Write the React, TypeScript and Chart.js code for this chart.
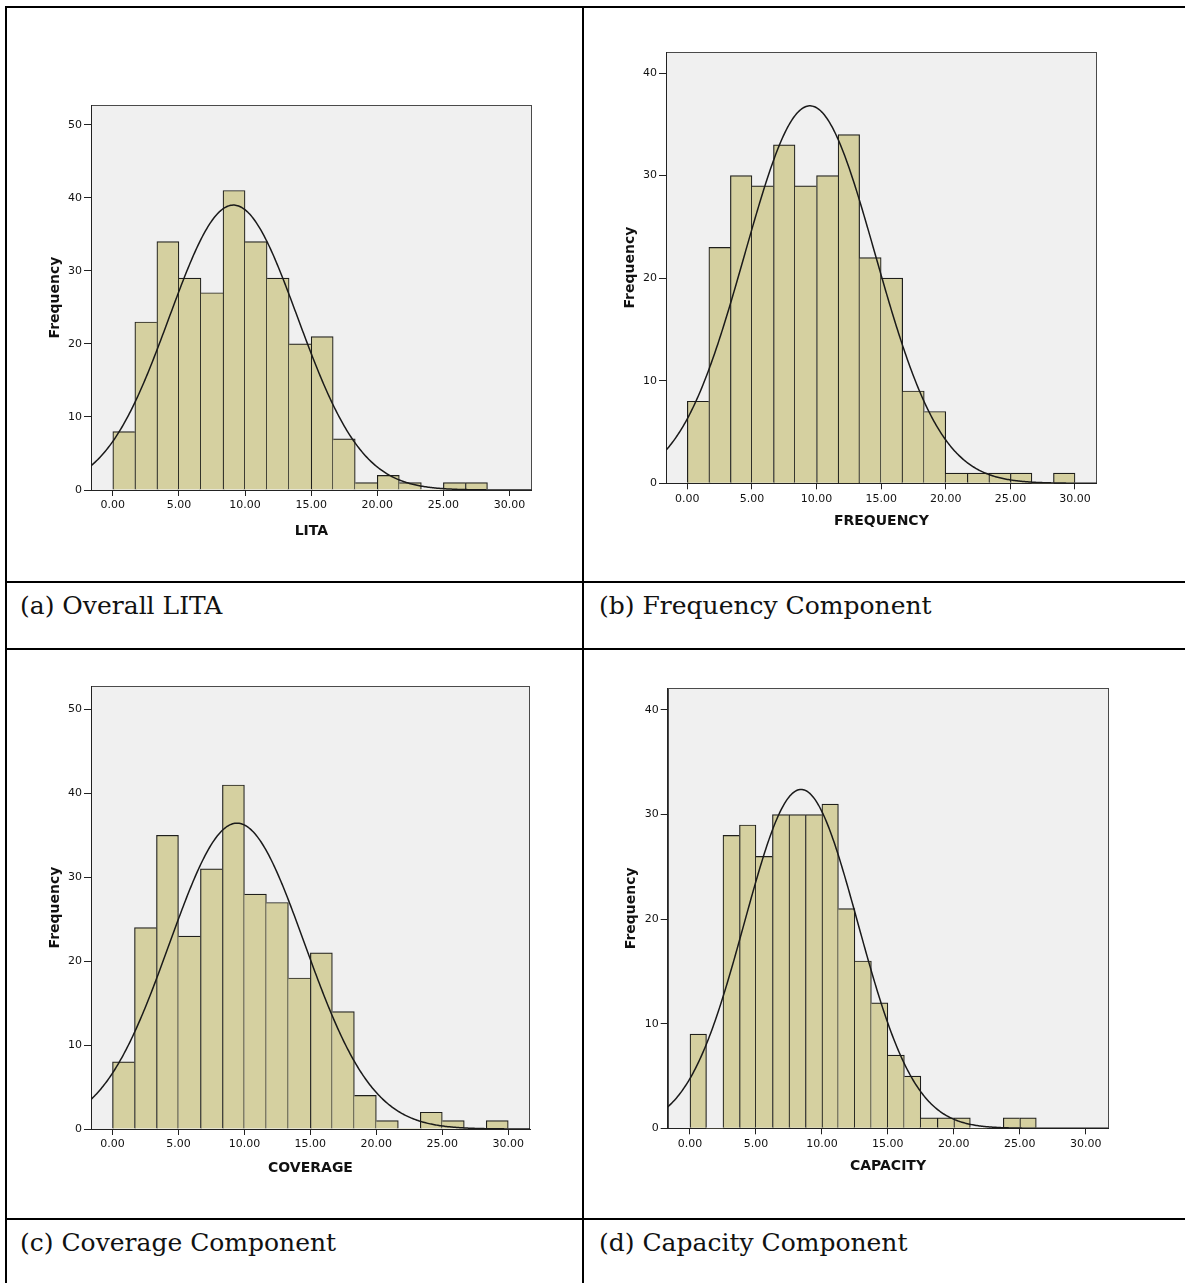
import React, { useEffect, useRef } from "react";
import { Chart, registerables } from "chart.js";

Chart.register(...registerables);

// ---------- DATA ----------
const litaCounts = [8, 23, 34, 29, 27, 41, 34, 29, 20, 21, 7, 1, 2, 1, 0, 1, 1];
const frequencyCounts = [8, 23, 30, 29, 33, 29, 30, 34, 22, 20, 9, 7, 1, 1, 1, 1, 0, 1];
const coverageCounts = [8, 24, 35, 23, 31, 41, 28, 27, 18, 21, 14, 4, 1, 0, 2, 1, 0, 1];
const capacityCounts = [9, 0, 28, 29, 26, 30, 30, 30, 31, 21, 16, 12, 7, 5, 1, 1, 1, 0, 0, 1, 1];

// bin widths (x units)
const binWidths = [30 / 18, 30 / 18, 30 / 18, 1.25];

// fitted normal curve: [mean, sd, peak]
const litaCurve = [9.12, 4.85, 39.0];
const frequencyCurve = [9.49, 5.05, 36.8];
const coverageCurve = [9.44, 5.12, 36.45];
const capacityCurve = [8.42, 4.3, 32.4];

const xTickValues = [0, 5, 10, 15, 20, 25, 30];
const xTickLabels = ["0.00", "5.00", "10.00", "15.00", "20.00", "25.00", "30.00"];
const yTicks50 = [0, 10, 20, 30, 40, 50];
const yTicks40 = [0, 10, 20, 30, 40];

const xAxisTitles = ["LITA", "FREQUENCY", "COVERAGE", "CAPACITY"];
const yAxisTitle = "Frequency";
const captions = [
  "(a) Overall LITA",
  "(b) Frequency Component",
  "(c) Coverage Component",
  "(d) Capacity Component",
];

// ---------- LAYOUT ----------
type PanelLayout = {
  left: number; top: number; width: number; height: number;
  padTop: number; padRight: number; yAxisW: number; xAxisH: number;
  yTitlePad: number; xTitlePad: number;
  xMin: number; xMax: number; yMax: number;
};

const layouts: PanelLayout[] = [
  { left: 35, top: 95, width: 507, height: 451, padTop: 10, padRight: 10.3, yAxisW: 56, xAxisH: 56, yTitlePad: 11.6, xTitlePad: 6.6, xMin: -1.65, xMax: 31.68, yMax: 52.7 },
  { left: 610, top: 42, width: 497, height: 494, padTop: 10, padRight: 10.3, yAxisW: 56, xAxisH: 52.7, yTitlePad: 11.6, xTitlePad: 6.6, xMin: -1.65, xMax: 31.68, yMax: 42.05 },
  { left: 35, top: 676, width: 505, height: 507, padTop: 10, padRight: 10, yAxisW: 56, xAxisH: 54, yTitlePad: 11.6, xTitlePad: 6.6, xMin: -1.63, xMax: 31.65, yMax: 52.8 },
  { left: 612, top: 678, width: 506, height: 504, padTop: 10.3, padRight: 9.7, yAxisW: 55.7, xAxisH: 53.7, yTitlePad: 11.3, xTitlePad: 6.9, xMin: -1.69, xMax: 31.71, yMax: 42.07 },
];

const countsList = [litaCounts, frequencyCounts, coverageCounts, capacityCounts];
const curveList = [litaCurve, frequencyCurve, coverageCurve, capacityCurve];
const yTickList = [yTicks50, yTicks40, yTicks50, yTicks40];

const SANS = "'DejaVu Sans', 'Noto Sans', sans-serif";
const SERIF = "'DejaVu Serif', 'Liberation Serif', serif";

const framePlugin = {
  id: "frame",
  beforeDraw(chart: any) {
    const { ctx, chartArea } = chart;
    if (!chartArea) return;
    const { left, top, right, bottom } = chartArea;
    ctx.save();
    ctx.fillStyle = "#f0f0f0";
    ctx.fillRect(left, top, right - left, bottom - top);
    ctx.strokeStyle = "#4a4a4a";
    ctx.lineWidth = 1;
    ctx.strokeRect(Math.round(left) + 0.5, Math.round(top) + 0.5, Math.round(right - left) - 1, Math.round(bottom - top));
    ctx.restore();
  },
};

function Histogram({ index }: { index: number }) {
  const ref = useRef<HTMLCanvasElement | null>(null);
  useEffect(() => {
    const L = layouts[index];
    const counts = countsList[index];
    const bw = binWidths[index];
    const [mu, sd, peak] = curveList[index];
    const yTicks = yTickList[index];

    const barData = counts.map((c, i) => ({ x: (i + 0.5) * bw, y: c }));
    const curveData: { x: number; y: number }[] = [];
    const steps = 400;
    for (let k = 0; k <= steps; k++) {
      const x = L.xMin + ((L.xMax - L.xMin) * k) / steps;
      const z = (x - mu) / sd;
      curveData.push({ x, y: peak * Math.exp(-0.5 * z * z) });
    }

    const bwPx = 1.2;
    const borderFor = (ctx: any) => {
      const i = ctx.dataIndex;
      const cur = counts[i] ?? 0;
      const prev = i > 0 ? counts[i - 1] : 0;
      const next = i < counts.length - 1 ? counts[i + 1] : 0;
      return {
        top: bwPx,
        bottom: 0,
        left: prev <= cur ? bwPx : 0,
        right: next < cur ? bwPx : 0,
      };
    };

    const chart = new Chart(ref.current as HTMLCanvasElement, {
      type: "bar",
      data: {
        datasets: [
          {
            type: "line",
            data: curveData,
            borderColor: "#1a1a1a",
            borderWidth: 1.5,
            pointRadius: 0,
            tension: 0,
            fill: false,
            order: 0,
          } as any,
          {
            type: "bar",
            data: barData,
            backgroundColor: "#d5d0a0",
            borderColor: "#1f1f1c",
            borderWidth: borderFor,
            barPercentage: 1,
            categoryPercentage: 1,
            order: 1,
          } as any,
        ],
      },
      options: {
        animation: false,
        responsive: false,
        devicePixelRatio: 1,
        layout: { padding: { left: 0, top: L.padTop, right: L.padRight, bottom: 0 } },
        plugins: { legend: { display: false }, tooltip: { enabled: false } },
        scales: {
          x: {
            type: "linear",
            min: L.xMin,
            max: L.xMax,
            offset: false,
            z: 1,
            afterFit: (s: any) => { s.height = L.xAxisH; },
            afterBuildTicks: (s: any) => { s.ticks = xTickValues.map((v) => ({ value: v })); },
            grid: { display: true, drawOnChartArea: false, drawTicks: true, tickLength: 6, tickColor: "#222", color: "#222", offset: false },
            border: { display: true, color: "#222", width: 1 },
            ticks: {
              autoSkip: false,
              maxRotation: 0,
              padding: 3,
              color: "#111",
              font: { family: SANS, size: 11 },
              callback: (_v: any, i: number) => xTickLabels[i],
            },
            title: {
              display: true,
              text: xAxisTitles[index],
              color: "#111",
              font: { family: SANS, size: 14, weight: "bold" },
              padding: { top: 0, bottom: L.xTitlePad },
            },
          },
          y: {
            type: "linear",
            min: 0,
            max: L.yMax,
            z: 1,
            afterFit: (s: any) => { s.width = L.yAxisW; },
            afterBuildTicks: (s: any) => { s.ticks = yTicks.map((v) => ({ value: v })); },
            grid: { display: true, drawOnChartArea: false, drawTicks: true, tickLength: 7, tickColor: "#222", color: "#222" },
            border: { display: true, color: "#222", width: 1 },
            ticks: {
              padding: 2,
              color: "#111",
              font: { family: SANS, size: 11 },
              callback: (v: any) => String(v),
            },
            title: {
              display: true,
              text: yAxisTitle,
              color: "#111",
              font: { family: SANS, size: 14, weight: "bold" },
              padding: { top: L.yTitlePad, bottom: 0 },
            },
          },
        },
      } as any,
      plugins: [framePlugin],
    });
    return () => chart.destroy();
  }, [index]);

  const L = layouts[index];
  return (
    <canvas
      ref={ref}
      width={L.width}
      height={L.height}
      style={{ position: "absolute", left: L.left, top: L.top, width: L.width, height: L.height }}
    />
  );
}

const line = (left: number, top: number, width: number, height: number, key: string) => (
  <div key={key} style={{ position: "absolute", left, top, width, height, background: "#000" }} />
);

export default function App() {
  const captionPos = [
    { left: 20, top: 593 },
    { left: 599, top: 593 },
    { left: 20, top: 1230 },
    { left: 599, top: 1230 },
  ];
  return (
    <div
      style={{
        position: "fixed",
        left: 0,
        top: 0,
        width: 1185,
        height: 1283,
        background: "#fff",
        overflow: "hidden",
      }}
    >
      {line(5, 6, 1185, 2, "t")}
      {line(5, 6, 2, 1283, "l")}
      {line(582, 6, 2, 1283, "m")}
      {line(5, 581, 1185, 2, "h1")}
      {line(5, 648, 1185, 2, "h2")}
      {line(5, 1218, 1185, 2, "h3")}
      {[0, 1, 2, 3].map((i) => (
        <Histogram key={"c" + i} index={i} />
      ))}
      {captions.map((c, i) => (
        <div
          key={"cap" + i}
          style={{
            position: "absolute",
            left: captionPos[i].left,
            top: captionPos[i].top,
            fontFamily: SERIF,
            fontSize: 25,
            lineHeight: "25px",
            color: "#111",
            whiteSpace: "nowrap",
          }}
        >
          {c}
        </div>
      ))}
    </div>
  );
}
